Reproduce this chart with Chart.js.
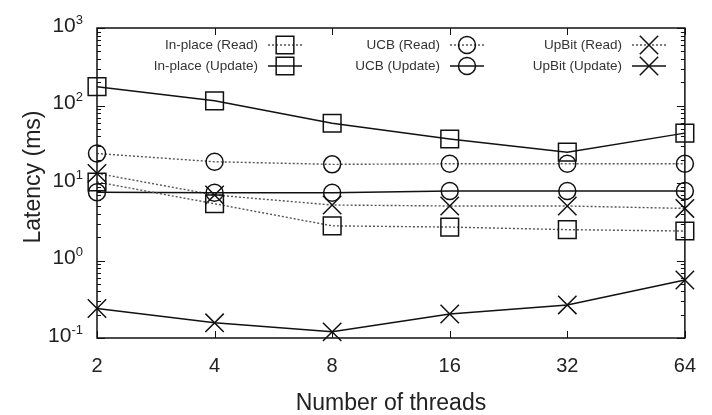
<!DOCTYPE html>
<html>
<head>
<meta charset="utf-8">
<script src="https://cdn.jsdelivr.net/npm/chart.js@4/dist/chart.umd.min.js"></script>
<style>
  html, body { margin: 0; padding: 0; background: #fff; }
  #wrap { width: 712px; height: 415px; }
</style>
</head>
<body>
<div id="wrap"><canvas id="c" width="712" height="415"></canvas></div>
<script>
// Thread counts on the x axis
const threadLabels = ['2', '4', '8', '16', '32', '64'];

// Latency in milliseconds per thread count
const inplaceRead   = [10.3, 5.4, 2.8, 2.7, 2.5, 2.4];
const inplaceUpdate = [175, 115, 59, 37, 25, 44];
const ucbRead       = [24, 18.8, 17.4, 17.7, 17.7, 17.7];
const ucbUpdate     = [7.6, 7.5, 7.5, 7.9, 7.9, 7.9];
const upbitRead     = [13.3, 7.0, 5.2, 5.05, 5.05, 4.7];
const upbitUpdate   = [0.24, 0.157, 0.12, 0.204, 0.267, 0.56];

// Series names
const seriesNames = [
  'In-place (Read)', 'In-place (Update)',
  'UCB (Read)', 'UCB (Update)',
  'UpBit (Read)', 'UpBit (Update)'
];

// Y axis decade labels (10 raised to these exponents)
const yTickBase = '10';
const yTickExponents = ['-1', '0', '1', '2', '3'];

const xTitle = 'Number of threads';
const yTitle = 'Latency (ms)';

const FONT = '"Liberation Sans", Arial, Helvetica, sans-serif';
const TEXT = '#222';

function series(label, data, shape, dotted) {
  const r = shape === 'rect' ? 12.5 : (shape === 'circle' ? 8.5 : 13);
  return {
    label, data,
    borderColor: dotted ? '#555' : '#111',
    borderWidth: dotted ? 1.4 : 1.5,
    borderDash: dotted ? [2, 2] : [],
    pointStyle: shape,
    pointRadius: r,
    pointHoverRadius: r,
    pointBorderColor: '#111',
    pointBackgroundColor: 'rgba(0,0,0,0)',
    pointBorderWidth: 1.5,
    tension: 0,
    fill: false,
    clip: false
  };
}

// Marker shapes, same geometry as the chart's point styles
function drawMarker(ctx, shape, r, x, y) {
  ctx.beginPath();
  if (shape === 'rect') {
    const s = Math.SQRT1_2 * r;
    ctx.rect(x - s, y - s, 2 * s, 2 * s);
  } else if (shape === 'circle') {
    ctx.arc(x, y, r, 0, Math.PI * 2);
  } else {
    const s = Math.SQRT1_2 * r;
    ctx.moveTo(x - s, y - s); ctx.lineTo(x + s, y + s);
    ctx.moveTo(x - s, y + s); ctx.lineTo(x + s, y - s);
  }
  ctx.stroke();
}

// Closed frame, inward tick marks, decade labels and the rotated y title
const frameAndTicks = {
  id: 'frameAndTicks',
  afterDatasetsDraw(chart) {
    const { ctx, chartArea: a, scales: { x, y } } = chart;
    ctx.save();
    ctx.strokeStyle = '#111';
    ctx.lineWidth = 1.5;
    ctx.strokeRect(a.left, a.top, a.right - a.left, a.bottom - a.top);

    ctx.lineWidth = 1;
    ctx.beginPath();
    threadLabels.forEach((_, i) => {
      const px = Math.round(x.getPixelForValue(i)) + 0.5;
      ctx.moveTo(px, a.bottom); ctx.lineTo(px, a.bottom - 7);
      ctx.moveTo(px, a.top); ctx.lineTo(px, a.top + 7);
    });
    yTickExponents.forEach((e) => {
      const base = Math.pow(10, Number(e));
      const py = Math.round(y.getPixelForValue(base)) + 0.5;
      ctx.moveTo(a.left, py); ctx.lineTo(a.left + 8, py);
      ctx.moveTo(a.right, py); ctx.lineTo(a.right - 8, py);
      if (Number(e) < 3) {
        for (let k = 2; k <= 9; k++) {
          const pm = Math.round(y.getPixelForValue(base * k)) + 0.5;
          ctx.moveTo(a.left, pm); ctx.lineTo(a.left + 4, pm);
          ctx.moveTo(a.right, pm); ctx.lineTo(a.right - 4, pm);
        }
      }
    });
    ctx.stroke();

    // decade labels: "10" with a raised exponent
    ctx.fillStyle = TEXT;
    ctx.textBaseline = 'middle';
    ctx.textAlign = 'right';
    yTickExponents.forEach((e) => {
      const py = y.getPixelForValue(Math.pow(10, Number(e)));
      const right = a.left - 14;
      ctx.font = '13px ' + FONT;
      const ew = ctx.measureText(e).width;
      ctx.fillText(e, right, py - 8);
      ctx.font = '21px ' + FONT;
      ctx.fillText(yTickBase, right - ew, py - 2);
    });

    // y axis title
    ctx.save();
    ctx.translate(34, 177);
    ctx.rotate(-Math.PI / 2);
    ctx.font = '23px ' + FONT;
    ctx.textAlign = 'center';
    ctx.textBaseline = 'middle';
    ctx.fillText(yTitle, 0, 0);
    ctx.restore();

    ctx.restore();
  }
};

// Key inside the top of the plot: three columns, read on top, update below
const keyBox = {
  id: 'keyBox',
  afterDraw(chart) {
    const { ctx } = chart;
    const textRight = [258, 440, 622];
    const rowY = [45, 66];
    ctx.save();
    chart.data.datasets.forEach((ds, i) => {
      const col = Math.floor(i / 2), row = i % 2;
      const tx = textRight[col], ty = rowY[row];
      ctx.font = '13.5px ' + FONT;
      ctx.fillStyle = '#333';
      ctx.textAlign = 'right';
      ctx.textBaseline = 'middle';
      ctx.fillText(ds.label, tx, ty);
      ctx.strokeStyle = ds.borderColor;
      ctx.lineWidth = ds.borderWidth;
      ctx.setLineDash(ds.borderDash);
      ctx.beginPath();
      ctx.moveTo(tx + 10, ty); ctx.lineTo(tx + 44, ty);
      ctx.stroke();
      ctx.setLineDash([]);
      ctx.strokeStyle = ds.pointBorderColor;
      ctx.lineWidth = ds.pointBorderWidth;
      drawMarker(ctx, ds.pointStyle, ds.pointRadius, tx + 27, ty);
    });
    ctx.restore();
  }
};

new Chart(document.getElementById('c'), {
  type: 'line',
  data: {
    labels: threadLabels,
    datasets: [
      series(seriesNames[0], inplaceRead, 'rect', true),
      series(seriesNames[1], inplaceUpdate, 'rect', false),
      series(seriesNames[2], ucbRead, 'circle', true),
      series(seriesNames[3], ucbUpdate, 'circle', false),
      series(seriesNames[4], upbitRead, 'crossRot', true),
      series(seriesNames[5], upbitUpdate, 'crossRot', false)
    ]
  },
  options: {
    responsive: false,
    animation: false,
    devicePixelRatio: 1,
    layout: { padding: { top: 28, right: 27, left: 0, bottom: 0 } },
    plugins: { legend: { display: false }, tooltip: { enabled: false } },
    scales: {
      x: {
        type: 'category',
        offset: false,
        grid: { display: false, drawTicks: false },
        border: { display: false },
        ticks: { font: { family: FONT, size: 20 }, color: TEXT, padding: 16, maxRotation: 0 },
        title: { display: true, text: xTitle, font: { family: FONT, size: 23, lineHeight: 1 }, color: TEXT, padding: { top: 0, bottom: 0 } },
        afterFit(scale) { scale.height = 77; }
      },
      y: {
        type: 'logarithmic',
        min: 0.1,
        max: 1000,
        grid: { display: false, drawTicks: false },
        border: { display: false },
        ticks: { display: false },
        title: { display: false },
        afterFit(scale) { scale.width = 97; }
      }
    }
  },
  plugins: [frameAndTicks, keyBox]
});
</script>
</body>
</html>
